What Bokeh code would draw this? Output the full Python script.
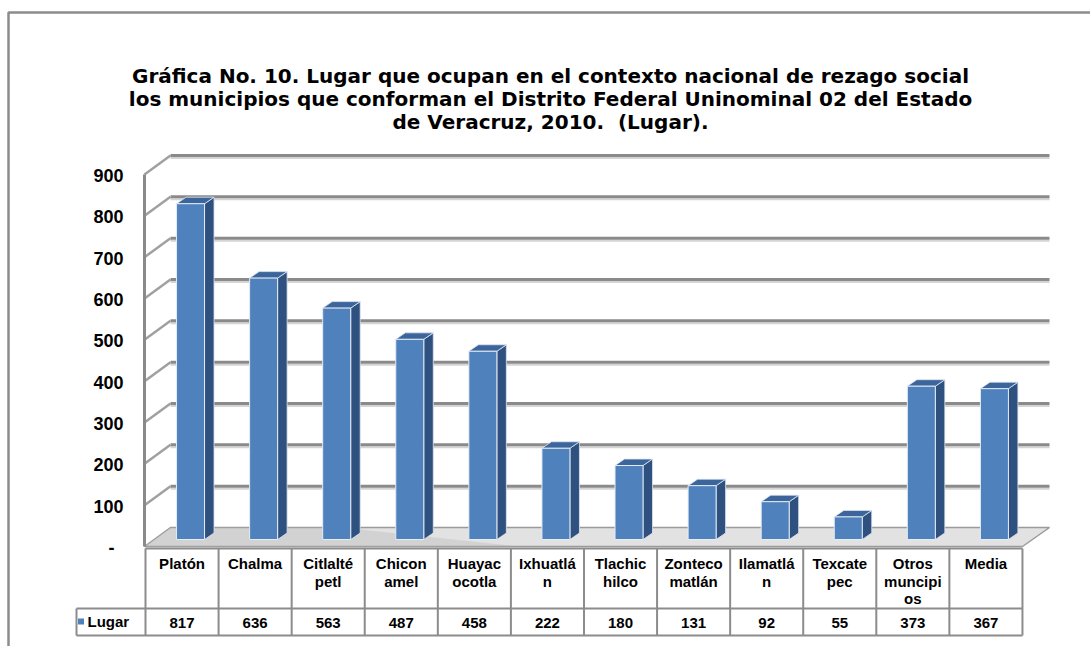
from bokeh.plotting import figure
from bokeh.models import Range1d
from bokeh.core.properties import value
from bokeh.embed import file_html
from bokeh.resources import INLINE

# ---------------- data ----------------
categories = ["Platón", "Chalma", "Citlalté\npetl", "Chicon\namel", "Huayac\nocotla",
              "Ixhuatlá\nn", "Tlachic\nhilco", "Zonteco\nmatlán", "Ilamatlá\nn",
              "Texcate\npec", "Otros\nmuncipi\nos", "Media"]
lugar = [817, 636, 563, 487, 458, 222, 180, 131, 92, 55, 373, 367]
y_ticks = [0, 100, 200, 300, 400, 500, 600, 700, 800, 900]
y_tick_labels = ["-", "100", "200", "300", "400", "500", "600", "700", "800", "900"]
series_name = "Lugar"
title_lines = ["Gráfica No. 10. Lugar que ocupan en el contexto nacional de rezago social",
               "los municipios que conforman el Distrito Federal Uninominal 02 del Estado",
               "de Veracruz, 2010. \u00a0(Lugar)."]

# ---------------- layout helpers (pixel -> data) ----------------
W, H = 1090, 646
PX0, COLW = 145.0, 73.08      # table left edge / column width (px)
PY0, PYU = 539.0, 0.411       # bar base (px) / px per unit
FONT = value("Liberation Sans")
TITLE_FONT = value("DejaVu Sans")


def dx(px):
    return (px - PX0) / COLW


def dy(py):
    return (PY0 - py) / PYU


WALL_U = 0.4133


def back_y(v, off=0.0):
    return dy(527 - v * WALL_U + off)


def front_y(v):
    return dy(546 - v * WALL_U)


p = figure(width=W, height=H,
           x_range=Range1d(dx(0), dx(W)), y_range=Range1d(dy(H), dy(0)),
           output_backend="svg", toolbar_location=None,
           x_axis_type=None, y_axis_type=None, min_border=0)
p.outline_line_color = None
p.background_fill_color = "white"

# outer chart border (top + left, the rest is cropped)
p.line([dx(8), dx(8), dx(1100)], [dy(660), dy(12), dy(12)],
       line_color="#8c8c8c", line_width=2.5)

# ---------------- floor ----------------
p.patch([dx(144), dx(1022), dx(1049), dx(170)],
        [front_y(0), front_y(0), back_y(0), back_y(0)],
        fill_color="#e2e2e2", line_color="#9a9a9a", line_width=1.5)
p.patch([dx(144), dx(520), dx(340), dx(170)],
        [front_y(0), front_y(0), back_y(0), back_y(0)],
        fill_color="#b5b5b5", fill_alpha=0.35, line_color=None)

# ---------------- walls / gridlines ----------------
grid_vals = y_ticks[1:]
p.multi_line([[dx(170), dx(1049)] for _ in grid_vals],
             [[back_y(v, 2.5), back_y(v, 2.5)] for v in grid_vals],
             line_color="#d4d4d4", line_width=2)
p.multi_line([[dx(170), dx(1049)] for _ in grid_vals],
             [[back_y(v), back_y(v)] for v in grid_vals],
             line_color="#8a8a8a", line_width=3)
p.multi_line([[dx(144), dx(170)] for _ in grid_vals],
             [[front_y(v), back_y(v)] for v in grid_vals],
             line_color="#a0a0a0", line_width=2.5)
p.line([dx(144), dx(144)], [front_y(0), front_y(max(y_ticks))],
       line_color="#8a8a8a", line_width=3)

# ---------------- 3D bars ----------------
n = len(categories)
shift = 8.5 / COLW
hw = 14.0 / COLW
ddx = 9.5 / COLW
ddy = 6.5 / PYU
cx = [i + 0.5 + shift for i in range(n)]
left = [c - hw for c in cx]
right = [c + hw for c in cx]

side_xs = [[r, r + ddx, r + ddx, r] for r in right]
side_ys = [[0, ddy, v + ddy, v] for v in lugar]
top_xs = [[l, r, r + ddx, l + ddx] for l, r in zip(left, right)]
top_ys = [[v, v, v + ddy, v + ddy] for v in lugar]

p.patches(side_xs, side_ys, fill_color="#2f5180", line_color="#dfe6f0",
          line_width=1, line_alpha=0.8)
p.patches(top_xs, top_ys, fill_color="#3b659b", line_color="#dfe6f0",
          line_width=1, line_alpha=0.8)
p.quad(left=left, right=right, bottom=[0] * n, top=lugar,
       fill_color="#4f81bd", line_color="#e4ebf5", line_width=1)

# ---------------- y labels ----------------
lab_x = [dx(114) if t == "-" else dx(123) for t in y_tick_labels]
lab_y = [dy(546 - v * WALL_U + 1) for v in y_ticks]
p.text(lab_x, lab_y, text=y_tick_labels, text_align="right", text_baseline="middle",
       text_font=FONT, text_font_style="bold", text_font_size="18px", text_color="black")

# ---------------- data table ----------------
col_edges = list(range(n + 1))
t_top, t_mid, t_bot = dy(548), dy(608), dy(635)
p.multi_line([[e, e] for e in col_edges], [[t_top, t_bot] for _ in col_edges],
             line_color="#8c8c8c", line_width=2)
p.multi_line([[0, n], [dx(76), n], [dx(76), n], [dx(76), dx(76)]],
             [[t_top, t_top], [t_mid, t_mid], [t_bot, t_bot], [t_mid, t_bot]],
             line_color="#8c8c8c", line_width=2)

cat_x, cat_y, cat_t = [], [], []
for i, c in enumerate(categories):
    for j, part in enumerate(c.split("\n")):
        cat_x.append(i + 0.5)
        cat_y.append(dy(563 + 17.5 * j))
        cat_t.append(part)
p.text(cat_x, cat_y, text=cat_t, text_align="center", text_baseline="middle",
       text_font=FONT, text_font_style="bold", text_font_size="15px", text_color="black")

p.text([i + 0.5 for i in range(n)], [dy(622)] * n, text=[str(v) for v in lugar],
       text_align="center", text_baseline="middle",
       text_font=FONT, text_font_style="bold", text_font_size="15px", text_color="black")

p.scatter([dx(80.5)], [dy(621)], marker="square", size=6, fill_color="#4f81bd",
          line_color=None)
p.text([dx(87)], [dy(621)], text=[series_name], text_align="left", text_baseline="middle",
       text_font=FONT, text_font_style="bold", text_font_size="15px", text_color="black")

# ---------------- title ----------------
p.text([dx(550)] * 3, [dy(75), dy(98), dy(121)], text=title_lines,
       text_align="center", text_baseline="middle",
       text_font=TITLE_FONT, text_font_style="bold", text_font_size="20px", text_color="black")

open("out.html", "w").write(file_html(p, INLINE))
